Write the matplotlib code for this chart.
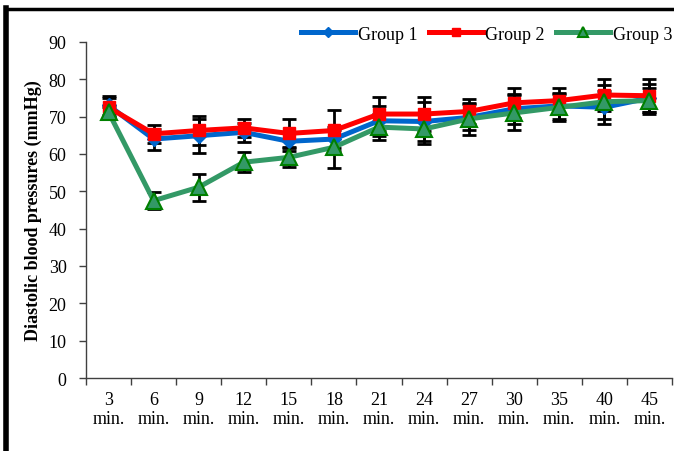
import numpy as np
import matplotlib.pyplot as plt
from matplotlib.lines import Line2D

times = ['3', '6', '9', '12', '15', '18', '21', '24', '27', '30', '35', '40', '45']
group1 = [73.0, 64.0, 64.9, 65.8, 63.4, 64.0, 68.9, 68.7, 69.8, 72.1, 72.9, 72.5, 75.0]
group2 = [72.5, 65.4, 66.3, 67.0, 65.5, 66.3, 70.7, 70.7, 71.4, 73.7, 74.3, 75.8, 75.6]
group3 = [71.2, 47.5, 51.1, 57.8, 59.1, 61.8, 67.2, 66.7, 69.4, 71.0, 72.5, 74.0, 74.3]
sd1 = [2.5, 2.8, 4.6, 2.5, 2.5, 2.5, 4.0, 5.3, 3.5, 4.0, 3.5, 4.5, 3.8]
sd2 = [2.5, 2.4, 4.0, 2.5, 3.9, 5.5, 4.5, 4.5, 3.4, 4.0, 3.5, 4.2, 4.4]
sd3 = [1.5, 2.3, 3.6, 2.6, 2.7, 5.5, 3.4, 4.0, 4.3, 4.7, 3.6, 4.5, 3.5]

plt.rcParams['font.family'] = ['Liberation Serif', 'DejaVu Serif']

fig = plt.figure(figsize=(6.74, 4.52), dpi=100)
ax = fig.add_axes([0.1276, 0.1615, 0.8694, 0.7434])

x = np.arange(len(times)) + 0.5

ax.errorbar(x, group1, yerr=sd1, fmt='none', ecolor='black', elinewidth=2, capsize=5, capthick=2, zorder=2)
ax.errorbar(x, group2, yerr=sd2, fmt='none', ecolor='black', elinewidth=2, capsize=5, capthick=2, zorder=2)
ax.errorbar(x, group3, yerr=sd3, fmt='none', ecolor='black', elinewidth=2, capsize=5, capthick=2, zorder=2)

ax.plot(x, group1, color='#0066CC', lw=3.6, marker='D', ms=7, mfc='#0066CC', mec='#0066CC', label='Group 1', zorder=3)
ax.plot(x, group2, color='#FF0000', lw=3.6, marker='s', ms=8, mfc='#FF0000', mec='#FF0000', label='Group 2', zorder=4)
ax.plot(x, group3, color='#339966', lw=3.6, marker='^', ms=11, mfc='#339966', mec='#008000', mew=1.5, label='Group 3', zorder=5)

ax.set_xlim(0, len(times))
ax.set_ylim(0, 90)
ax.set_yticks(range(0, 91, 10))
ax.set_xticks(range(len(times) + 1))
ax.set_xticklabels([])
ax.set_xticks(x, minor=True)
ax.set_xticklabels([t + '\nmin.' for t in times], minor=True)
ax.tick_params(axis='x', which='minor', length=0, pad=9, labelsize=13)
ax.tick_params(axis='x', which='major', length=5, width=1, color='#404040')
ax.tick_params(axis='y', length=5, width=1, color='#404040', labelsize=13, pad=9)
for s in ['top', 'right']:
    ax.spines[s].set_visible(False)
for s in ['left', 'bottom']:
    ax.spines[s].set_color('#404040')
    ax.spines[s].set_linewidth(1)

ax.set_ylabel('Diastolic blood pressures (mmHg)', fontsize=13, fontweight='bold', labelpad=5)

ax.legend(loc='center right', bbox_to_anchor=(1.0, 0.922), bbox_transform=fig.transFigure,
          ncol=3, frameon=False, fontsize=13, handlelength=3, handletextpad=0.15,
          columnspacing=0.6, borderaxespad=0.0, borderpad=0.1, markerscale=0.7)

fig.add_artist(Line2D([0.009, 1.0], [0.977, 0.977], color='black', lw=2.5, transform=fig.transFigure))
fig.add_artist(Line2D([0.009, 0.009], [0.0, 0.979], color='black', lw=4, transform=fig.transFigure))

fig.savefig('out.png', dpi=100)
